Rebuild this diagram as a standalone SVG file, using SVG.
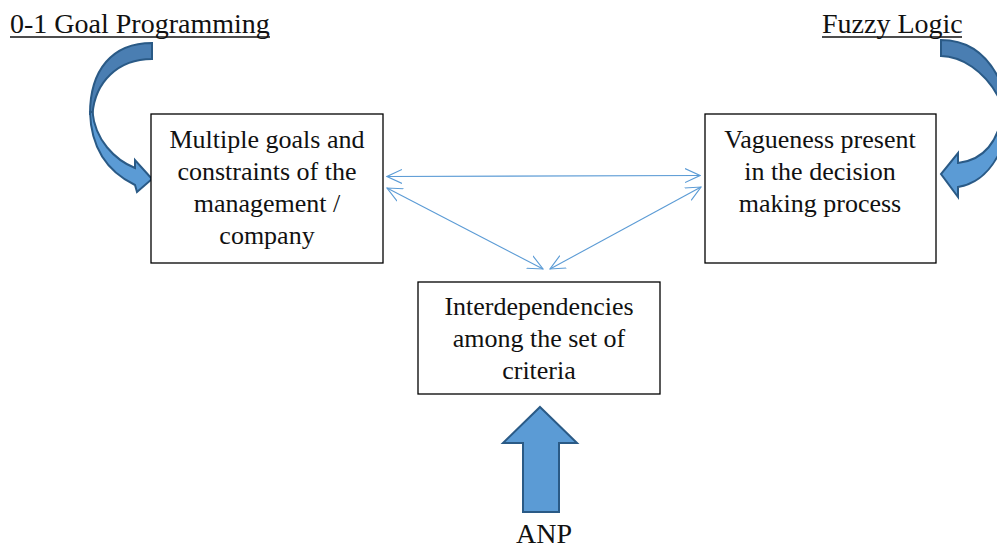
<svg xmlns="http://www.w3.org/2000/svg" width="997" height="549" viewBox="0 0 997 549">
<style>
.box{fill:#fff;stroke:#000;stroke-width:1.3}
.t{font-family:'Liberation Serif','Times New Roman',Tinos,'DejaVu Serif',serif;font-size:26px;fill:#111;text-anchor:middle}
.title{font-family:'Liberation Serif','Times New Roman',Tinos,'DejaVu Serif',serif;font-size:28px;fill:#111}
.con{fill:none;stroke:#5b9bd5;stroke-width:1.1}
.front{fill:#5b9bd5;stroke:#2a5a86;stroke-width:2;stroke-linejoin:miter}
.back{fill:#4a7eb2;stroke:#2a5a86;stroke-width:2}
</style>
<defs>
<marker id="ah" viewBox="0 0 16 16" refX="15" refY="8" markerWidth="16" markerHeight="16" markerUnits="userSpaceOnUse" orient="auto-start-reverse">
<path d="M0,1 L15,8 L0,15" fill="none" stroke="#5b9bd5" stroke-width="1.1"/>
</marker>
</defs>
<g id="title-goal">
<text class="title" x="10" y="33">0-1 Goal Programming</text>
<line x1="10" y1="37" x2="270" y2="37" stroke="#111" stroke-width="1.4"/>
</g>
<g id="title-fuzzy">
<text class="title" x="822" y="33">Fuzzy Logic</text>
<line x1="822" y1="37" x2="962" y2="37" stroke="#111" stroke-width="1.4"/>
</g>
<g id="arrow-goal">
<path class="back" d="M152,43 L152,59 C118,59 95,82 92.5,114 L90,114 C90,70 112,43 152,43 Z"/>
<path class="front" d="M90,112 C91,148 108,172 135,185 L137,192 L152,179 L135,160 L135,168 C115,160 95,140 92.5,112 Z"/>
</g>
<g id="arrow-fuzzy">
<path class="back" d="M941,40 L941,56 C960,56 985,70 1000,100 L1003,88 C990,55 968,40 941,40 Z"/>
<path class="front" d="M1002,115 C998,140 985,160 958,163 L958,153 L941,174 L958,197 L958,187 C982,183 998,165 1008,130 Z"/>
</g>
<g id="arrow-anp">
<path class="front" d="M540,407 L577,443 L559,443 L559,512 L523,512 L523,443 L503,443 Z"/>
<text class="t" x="544" y="543" style="font-size:28px">ANP</text>
</g>
<g id="node-goals">
<rect class="box" x="151" y="114" width="232" height="149"/>
<text class="t" x="267" y="148">Multiple goals and</text>
<text class="t" x="267" y="180">constraints of the</text>
<text class="t" x="267" y="212">management /</text>
<text class="t" x="267" y="244">company</text>
</g>
<g id="node-vague">
<rect class="box" x="705" y="114" width="231" height="149"/>
<text class="t" x="820" y="148">Vagueness present</text>
<text class="t" x="820" y="180">in the decision</text>
<text class="t" x="820" y="212">making process</text>
</g>
<g id="node-inter">
<rect class="box" x="418" y="282" width="242" height="112"/>
<text class="t" x="539" y="315">Interdependencies</text>
<text class="t" x="539" y="347">among the set of</text>
<text class="t" x="539" y="379">criteria</text>
</g>
<g id="connectors">
<line class="con" x1="387" y1="176.5" x2="700" y2="175.5" marker-start="url(#ah)" marker-end="url(#ah)"/>
<line class="con" x1="387" y1="188" x2="543" y2="269" marker-start="url(#ah)" marker-end="url(#ah)"/>
<line class="con" x1="701" y1="187" x2="550" y2="269" marker-start="url(#ah)" marker-end="url(#ah)"/>
</g>
</svg>
